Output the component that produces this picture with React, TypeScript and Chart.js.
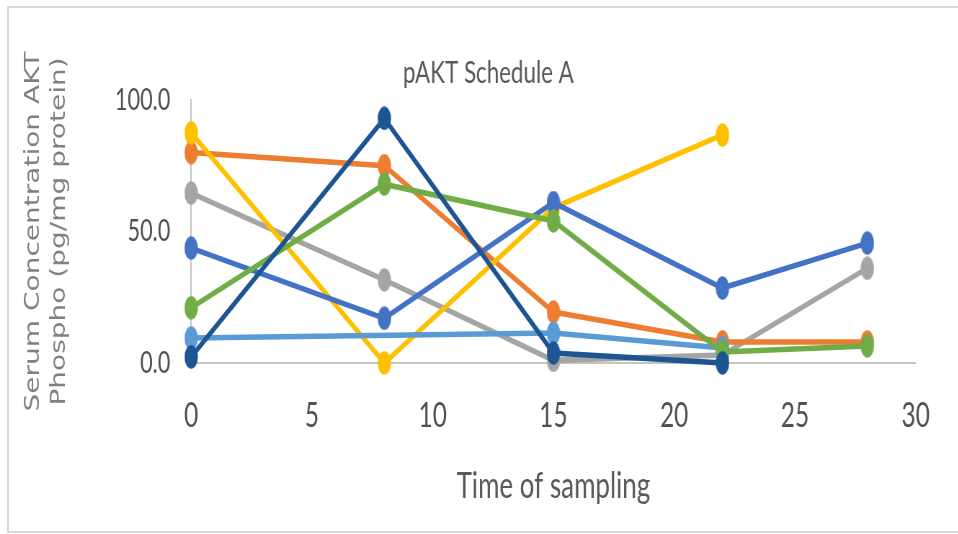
import React, { useEffect, useRef } from "react";
import { Chart, registerables } from "chart.js";

Chart.register(...registerables);

// ---- data ----
const timePoints = [0, 8, 15, 22, 28];
const seriesDarkBlue = [2.3, 93, 3.8, 0, null];
const seriesGreen = [21, 68, 54, 4.2, 6.5];
const seriesBlue = [43.7, 17, 61, 28.5, 45.6];
const seriesLightBlue = [9.5, null, 11.4, 5.7, null];
const seriesYellow = [87.5, 0, 59, 86.7, null];
const seriesOrange = [80, 75, 19.4, 8, 8];
const seriesGray = [64.6, 31.6, 1, 3, 36];
const xTickValues = [0, 5, 10, 15, 20, 25, 30];
const yTickValues = [0, 50, 100];

const chartTitle = "pAKT Schedule A";
const xTitle = "Time of sampling";
const yTitle = ["Serum Concentration AKT", "Phospho (pg/mg protein)"];

// ---- layout (horizontal squeeze like the reference) ----
const S = 0.72;
const W = 958 / S;
const H = 534;

function makeMarker(color: string) {
  const c = document.createElement("canvas");
  c.width = 19;
  c.height = 24;
  const ctx = c.getContext("2d")!;
  ctx.fillStyle = color;
  ctx.beginPath();
  ctx.ellipse(9.5, 12, 9.3, 11.8, 0, 0, Math.PI * 2);
  ctx.fill();
  return c;
}

function pts(vals: (number | null)[]) {
  return timePoints
    .map((t, i) => ({ x: t, y: vals[i] }))
    .filter((p) => p.y !== null);
}

function ds(label: string, vals: (number | null)[], color: string) {
  return {
    label,
    data: pts(vals),
    borderColor: color,
    backgroundColor: color,
    borderWidth: 5.5,
    pointStyle: makeMarker(color),
    pointRadius: 10,
    tension: 0,
    clip: false as const,
    spanGaps: true,
    xAxisID: "x",
    yAxisID: "y",
  };
}

export default function App() {
  const ref = useRef<HTMLCanvasElement>(null);

  useEffect(() => {
    const tickColor = "#505050";
    const chart = new Chart(ref.current!, {
      type: "line",
      data: {
        datasets: [
          ds("Dark blue", seriesDarkBlue, "#1D5593"),
          ds("Green", seriesGreen, "#70AD47"),
          ds("Blue", seriesBlue, "#4472C4"),
          ds("Light blue", seriesLightBlue, "#5B9BD5"),
          ds("Yellow", seriesYellow, "#FFC000"),
          ds("Orange", seriesOrange, "#ED7D31"),
          ds("Gray", seriesGray, "#A5A5A5"),
        ] as any,
      },
      options: {
        animation: false,
        responsive: true,
        maintainAspectRatio: false,
        devicePixelRatio: 1,
        layout: { padding: { left: 25, right: 0, top: 0, bottom: 0 } },
        plugins: {
          legend: { display: false },
          tooltip: { enabled: false },
          title: {
            display: true,
            text: chartTitle,
            color: "#595959",
            font: { family: "Lato", size: 31, weight: "normal" },
            padding: { top: 54.4, bottom: 8.4 },
          },
        },
        scales: {
          x: {
            type: "linear",
            position: "bottom",
            min: 0,
            max: 30,
            grid: { display: false, drawTicks: false },
            border: { display: true, color: "#c4c4c4", width: 2 },
            afterBuildTicks: (s: any) => {
              s.ticks = xTickValues.map((v) => ({ value: v }));
            },
            ticks: {
              color: tickColor,
              font: { family: "Lato", size: 34 },
              padding: 33,
              maxRotation: 0,
              autoSkip: false,
            },
            title: {
              display: true,
              text: xTitle,
              color: "#595959",
              font: { family: "Lato", size: 36 },
              padding: { top: 0, bottom: 26 },
            },
            afterFit: (s: any) => {
              s.height = H - 363;
            },
          },
          y: {
            type: "linear",
            position: "left",
            min: 0,
            max: 100,
            grid: { display: false, drawTicks: false },
            border: { display: true, color: "#c4c4c4", width: 2 },
            afterBuildTicks: (s: any) => {
              s.ticks = yTickValues.map((v) => ({ value: v }));
            },
            ticks: {
              color: tickColor,
              font: { family: "Lato", size: 30 },
              padding: 29,
              callback: (v: any) => Number(v).toFixed(1),
            },
            title: {
              display: true,
              text: yTitle,
              color: "#808080",
              font: { family: "DejaVu Sans", size: 28, lineHeight: 1.28 },
              padding: { top: 4, bottom: 0 },
            },
            afterFit: (s: any) => {
              s.width = 191 / S - 25;
            },
          },
          y2: {
            type: "linear",
            position: "right",
            display: true,
            grid: { display: false, drawTicks: false },
            border: { display: false },
            ticks: { display: false },
            afterFit: (s: any) => {
              s.width = W - 915 / S;
            },
          },
        },
      } as any,
    });
    return () => chart.destroy();
  }, []);

  return (
    <div
      style={{
        position: "absolute",
        left: 0,
        top: 0,
        width: 958,
        height: 534,
        overflow: "hidden",
        background: "#ffffff",
      }}
    >
      <div
        style={{
          position: "absolute",
          left: 7,
          top: 6,
          width: 1000,
          height: 527,
          boxSizing: "border-box",
          border: "2px solid #d9d9d9",
        }}
      />
      <div
        style={{
          position: "absolute",
          left: 0,
          top: 0,
          width: W,
          height: H,
          transform: `scaleX(${S})`,
          transformOrigin: "0 0",
        }}
      >
        <canvas ref={ref} />
      </div>
    </div>
  );
}
